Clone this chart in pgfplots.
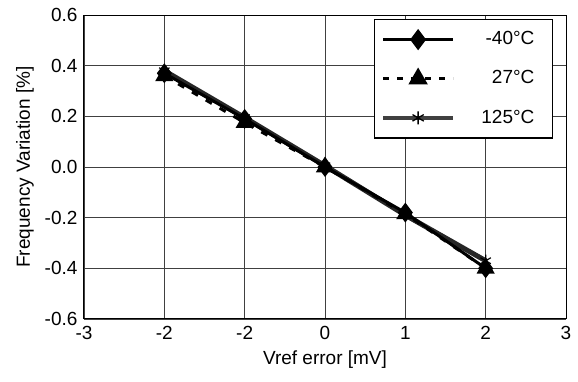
\documentclass[border=0pt]{standalone}
\usepackage{pgfplots}
\pgfplotsset{compat=1.18}
\usepackage{fontspec}
\setmainfont{Liberation Sans}
\begin{document}
\fontsize{19}{22}\selectfont
\begin{tikzpicture}
\begin{axis}[
  scale only axis,
  width=482pt, height=304pt,
  xmin=-3, xmax=3, ymin=-0.6, ymax=0.6,
  xtick={-3,-2,-1,0,1,2,3},
  xticklabels={-3,-2,-2,0,1,2,3},
  ytick={-0.6,-0.4,-0.2,0,0.2,0.4,0.6},
  yticklabels={-0.6,-0.4,-0.2,0.0,0.2,0.4,0.6},
  major tick length=0pt,
  grid=major,
  major grid style={black!75, line width=0.8pt},
  axis line style={black, line width=1pt},
  tick label style={font=\fontsize{19}{22}\selectfont},
  label style={font=\fontsize{19}{22}\selectfont},
  xticklabel style={yshift=-1pt},
  xlabel={Vref error [mV]},
  ylabel={Frequency Variation [\%]},
  xlabel style={yshift=2pt},
  ylabel style={yshift=-2pt},
]
\addplot[color=black!85, line width=5pt, mark=asterisk, mark size=6pt,
  mark options={solid, line width=1.2pt, black}]
  coordinates {(-2,0.38) (-1,0.195) (0,0.005) (1,-0.19) (2,-0.37)};
\addplot[black, line width=3pt, dashed, dash pattern=on 7pt off 9pt, mark=triangle*, mark size=7.5pt, mark options={solid}]
  coordinates {(-2,0.36) (-1,0.175) (0,0) (1,-0.185) (2,-0.40)};
\addplot[black, line width=3pt, mark=diamond*, mark size=7.5pt, mark options={solid}]
  coordinates {(-2,0.37) (-1,0.19) (0,0) (1,-0.18) (2,-0.40)};
\end{axis}
\begin{axis}[
  scale only axis,
  width=482pt, height=304pt,
  xmin=-3, xmax=3, ymin=-0.6, ymax=0.6,
  hide axis,
  legend image code/.code={\draw[mark repeat=2,mark phase=2,#1] plot coordinates {(0pt,0pt)(35pt,0pt)(70pt,0pt)};},
  legend style={at={(0.973,0.987)}, anchor=north east, draw=black, line width=1.2pt,
    font=\fontsize{19}{22}\selectfont, cells={anchor=east},
    row sep=19pt, inner xsep=6pt, inner ysep=10pt,
    /tikz/every odd column/.append style={column sep=24pt}},
]
\addlegendimage{black, line width=3.2pt, mark=diamond*, mark size=8pt, mark options={solid}}
\addlegendentry{-40°C\hspace*{10pt}}
\addlegendimage{black, line width=3.2pt, dashed, dash pattern=on 6pt off 8pt, mark=triangle*, mark size=8pt, mark options={solid}}
\addlegendentry{27°C\hspace*{10pt}}
\addlegendimage{color=black!75, line width=4.5pt, mark=asterisk, mark size=6.5pt, mark options={solid, line width=1.3pt, black}}
\addlegendentry{125°C\hspace*{10pt}}
\end{axis}
\path[use as bounding box] (-84pt,-63pt) rectangle ++(578pt,382pt);
\end{tikzpicture}
\end{document}
